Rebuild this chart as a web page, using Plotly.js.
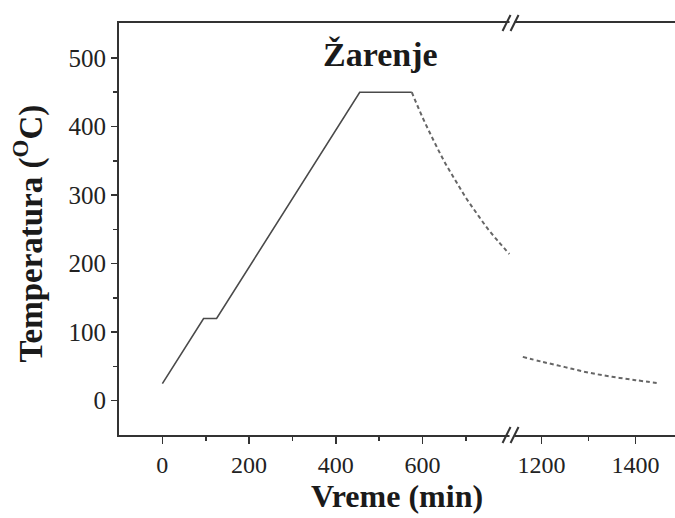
<!DOCTYPE html>
<html>
<head>
<meta charset="utf-8">
<script src="https://cdn.plot.ly/plotly-3.0.1.min.js"></script>
<style>html,body{margin:0;padding:0;background:#fff;}#chart{width:675px;height:518px;}</style>
</head>
<body>
<div id="chart"></div>
<script>
// Heating (solid) segment
const heatTime = [0, 95, 125, 455, 575];
const heatTemp = [25, 120, 120, 450, 450];
// Cooling (dashed), before the axis break
const coolTimeA = [575, 600, 625, 650, 675, 700, 725, 750, 775, 800];
const coolTempA = [450, 413, 380, 349, 322, 296, 273, 251, 232, 214];
// Cooling (dashed), after the axis break
const coolTimeB = [1160, 1200, 1250, 1300, 1350, 1400, 1445];
const coolTempB = [64, 57, 49, 41, 35, 30, 26];

const xTicksA = [0, 200, 400, 600];
const xTicksB = [1200, 1400];
const yTicks = [0, 100, 200, 300, 400, 500];

const titleText = "Žarenje";
const xTitle = "Vreme (min)";
const yTitle = "Temperatura (<sup>O</sup>C)";

const serif = "Liberation Serif, Times New Roman, serif";
const axisCol = "#333";
const breakAt = 0.706;

const traces = [
  {x: heatTime, y: heatTemp, xaxis: "x", yaxis: "y", mode: "lines",
   line: {color: "#4a4a4a", width: 1.6}, hoverinfo: "skip"},
  {x: coolTimeA, y: coolTempA, xaxis: "x", yaxis: "y", mode: "lines",
   line: {color: "#666", width: 2, dash: "4px,3px", shape: "spline"}, hoverinfo: "skip"},
  {x: coolTimeB, y: coolTempB, xaxis: "x2", yaxis: "y", mode: "lines",
   line: {color: "#666", width: 2, dash: "4px,3px", shape: "spline"}, hoverinfo: "skip"}
];

const xCommon = {
  showline: true, linecolor: axisCol, linewidth: 2, mirror: true,
  ticks: "outside", ticklen: 7, tickwidth: 1.5, tickcolor: axisCol,
  showgrid: false, zeroline: false, anchor: "y",
  tickfont: {family: serif, size: 24, color: "#222"},
  minor: {ticklen: 4, tickwidth: 1.5, tickcolor: axisCol, showgrid: false}
};

const layout = {
  width: 675, height: 518,
  margin: {l: 119, r: 0, t: 23, b: 83},
  paper_bgcolor: "#fff", plot_bgcolor: "#fff",
  showlegend: false,
  xaxis: Object.assign({}, xCommon, {
    domain: [0, breakAt], range: [-100, 805],
    tickmode: "array", tickvals: xTicksA, ticktext: xTicksA.map(String),
    minor: Object.assign({}, xCommon.minor, {tickmode: "array", tickvals: [100, 300, 500, 700]})
  }),
  xaxis2: Object.assign({}, xCommon, {
    domain: [breakAt, 1], range: [1136, 1484],
    tickmode: "array", tickvals: xTicksB, ticktext: xTicksB.map(String),
    minor: Object.assign({}, xCommon.minor, {tickmode: "array", tickvals: [1300]})
  }),
  yaxis: {
    range: [-50, 551], anchor: "x",
    showline: true, linecolor: axisCol, linewidth: 2, mirror: false,
    ticks: "outside", ticklen: 6, tickwidth: 1.5, tickcolor: axisCol,
    showgrid: false, zeroline: false,
    tickmode: "array", tickvals: yTicks, ticktext: yTicks.map(String),
    tickfont: {family: serif, size: 25, color: "#222"},
    minor: {tickmode: "array", tickvals: [50, 150, 250, 350, 450], ticklen: 4, tickwidth: 1.5, tickcolor: axisCol}
  },
  annotations: [
    {text: titleText, xref: "paper", yref: "paper", x: 0.471, y: 0.923,
     xanchor: "center", yanchor: "middle", showarrow: false,
     font: {family: serif, size: 34, color: "#1a1a1a", weight: "bold"}},
    {text: "<b>" + xTitle + "</b>", xref: "paper", yref: "paper", x: 0.5, y: -0.148,
     xanchor: "center", yanchor: "middle", showarrow: false,
     font: {family: serif, size: 32, color: "#1a1a1a"}},
    {text: "<b>" + yTitle + "</b>", xref: "paper", yref: "paper", x: -0.163, y: 0.49,
     xanchor: "center", yanchor: "middle", showarrow: false, textangle: -90,
     font: {family: serif, size: 33, color: "#1a1a1a"}}
  ],
  shapes: []
};

// axis-break marks "//" on bottom and top axis lines
[0, 1].forEach(function (ya) {
  layout.shapes.push({type: "line", xref: "paper", yref: "paper", xsizemode: "pixel", ysizemode: "pixel",
    xanchor: breakAt, yanchor: ya, x0: -2, x1: 3, y0: 0, y1: 0, line: {color: "#fff", width: 4}});
  [-5, 3].forEach(function (dx) {
    layout.shapes.push({type: "line", xref: "paper", yref: "paper", xsizemode: "pixel", ysizemode: "pixel",
      xanchor: breakAt, yanchor: ya, x0: dx - 4, x1: dx + 4, y0: -8, y1: 8,
      line: {color: "#333", width: 2}});
  });
});

Plotly.newPlot("chart", traces, layout, {staticPlot: true, displayModeBar: false});
</script>
</body>
</html>
